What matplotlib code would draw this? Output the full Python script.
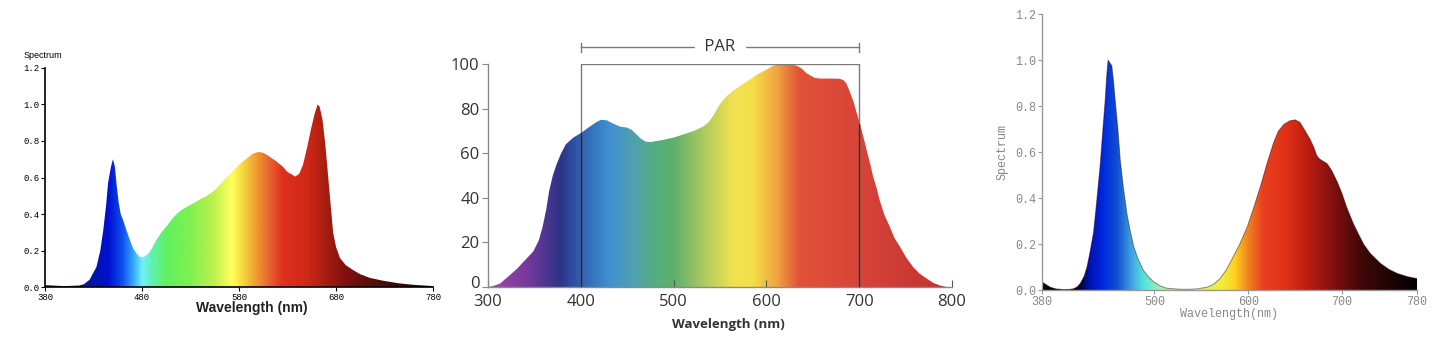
import numpy as np
import matplotlib
matplotlib.use("Agg")
import matplotlib.pyplot as plt
from matplotlib.patches import Polygon
from matplotlib.colors import to_rgb
from matplotlib.transforms import ScaledTranslation

# ---- data ----
# left panel: full-spectrum LED
wl_led = [380, 400, 415, 420, 426, 430, 433, 437, 440, 443, 445, 448, 450, 452, 454, 456,
          458, 461, 464, 468, 471, 475, 478, 482, 486, 490, 495, 500, 505, 512, 520, 530,
          540, 547, 555, 562, 567, 574, 580, 587, 594, 600, 605, 610, 618, 625, 630, 635,
          638, 642, 646, 650, 654, 658, 661, 663, 666, 669, 672, 675, 677, 680, 684, 690,
          697, 705, 715, 728, 745, 760, 780]
sp_led = [0.01, 0.005, 0.008, 0.015, 0.04, 0.08, 0.11, 0.2, 0.31, 0.45, 0.57, 0.66, 0.70, 0.66,
          0.55, 0.46, 0.40, 0.36, 0.31, 0.25, 0.21, 0.18, 0.165, 0.165, 0.18, 0.21, 0.26, 0.30,
          0.33, 0.38, 0.42, 0.45, 0.48, 0.50, 0.53, 0.57, 0.60, 0.635, 0.67, 0.70, 0.73, 0.74,
          0.735, 0.72, 0.69, 0.66, 0.63, 0.615, 0.605, 0.62, 0.67, 0.76, 0.86, 0.95, 1.0, 0.99,
          0.92, 0.78, 0.60, 0.42, 0.30, 0.22, 0.16, 0.12, 0.095, 0.07, 0.05, 0.035, 0.02,
          0.012, 0.005]

# middle panel: sunlight / PAR
wl_sun = [300, 306, 313, 320, 331, 340, 349, 355, 359, 363, 366, 370, 374, 379, 384, 392, 400,
          410, 417, 422, 428, 434, 442, 450, 455, 460, 465, 470, 475, 482, 489, 500, 511, 522,
          532, 538, 543, 550, 557, 564, 573, 582, 591, 600, 607, 615, 622, 629, 634, 638, 643,
          647, 652, 658, 670, 679, 683, 686, 690, 694, 697, 701, 705, 708, 712, 715, 719, 722,
          727, 733, 738, 744, 751, 758, 765, 773, 780, 787, 794]
sp_sun = [0, 0.5, 1.5, 4, 8, 12, 16, 21, 27, 35, 43, 50, 55, 60, 64, 67, 69, 72, 74, 75, 74.8,
          73.5, 72, 71.5, 70.5, 68.5, 66.5, 65.2, 65, 65.5, 66, 67, 68.5, 70, 72, 74, 77, 82,
          85.5, 88, 90.5, 93, 95.5, 97.5, 99.2, 100, 100, 99.7, 99, 98, 96, 95, 93.8, 93.5,
          93.5, 93.4, 92.8, 91.5, 87.5, 83, 78.5, 73, 66.5, 61.5, 55, 49.5, 44, 39, 32.5, 27,
          22, 18, 13, 9, 6, 3.7, 1.8, 0.7, 0]

# right panel: blue + red LED
wl_br = [380, 385, 389, 395, 403, 410, 414, 418, 421, 425, 428, 431, 435, 438, 442, 445, 447.5,
         449, 450.5, 452, 454.5, 456, 458, 461, 463.5, 467, 470.7, 474, 477.8, 482, 488, 493,
         499, 506, 513, 525, 535, 545, 556, 563, 570, 577, 584, 591, 599, 606, 613, 620, 627,
         632, 638, 644, 650, 655, 661, 666, 670, 673, 676, 680, 684, 689, 695, 700, 705, 712,
         718, 723, 730, 741, 750, 759, 770, 780]
sp_br = [0.035, 0.022, 0.012, 0.005, 0.002, 0.003, 0.006, 0.015, 0.03, 0.06, 0.10, 0.16, 0.25,
         0.37, 0.54, 0.70, 0.83, 0.93, 1.0, 0.99, 0.975, 0.92, 0.83, 0.70, 0.565, 0.44, 0.33,
         0.26, 0.19, 0.14, 0.087, 0.06, 0.036, 0.018, 0.008, 0.004, 0.003, 0.005, 0.012, 0.025,
         0.05, 0.09, 0.145, 0.2, 0.275, 0.36, 0.45, 0.55, 0.64, 0.69, 0.72, 0.735, 0.74, 0.73,
         0.69, 0.655, 0.62, 0.585, 0.57, 0.56, 0.55, 0.52, 0.47, 0.42, 0.36, 0.29, 0.24, 0.20,
         0.16, 0.116, 0.09, 0.072, 0.058, 0.05]

ticks_led = [380, 480, 580, 680, 780]
ticks_sun = [300, 400, 500, 600, 700, 800]
ticks_br = [380, 500, 600, 700, 780]

# colour stops (wavelength, colour) for the rainbow fills
stops_led = [(380, "#000040"), (425, "#0018a0"), (445, "#0010d0"), (460, "#1050f0"),
             (470, "#30a0ff"), (480, "#70f0ff"), (490, "#60f0b0"), (505, "#60f060"),
             (530, "#80f050"), (555, "#c0f050"), (572, "#ffff60"), (582, "#f8e040"),
             (597, "#f0a030"), (612, "#e86030"), (625, "#e03020"), (650, "#d02818"),
             (665, "#b02010"), (690, "#801010"), (720, "#501008"), (780, "#200000")]
stops_sun = [(300, "#a848a8"), (345, "#70389a"), (378, "#2c3488"), (400, "#3060b0"),
             (430, "#4090d0"), (455, "#4fa0b0"), (480, "#55ae80"), (500, "#5cb06a"),
             (530, "#a8c860"), (565, "#f2e250"), (585, "#f4e048"), (612, "#f0a040"),
             (635, "#e25238"), (700, "#d84438"), (800, "#c03030")]
stops_br = [(380, "#000000"), (418, "#000010"), (430, "#0010b0"), (445, "#0028e0"),
            (460, "#1050d0"), (475, "#40a0e0"), (487, "#50e0e0"), (505, "#a0f0b0"),
            (570, "#f0f040"), (585, "#ffd020"), (600, "#f08020"), (615, "#e84020"),
            (640, "#e03018"), (660, "#c02010"), (690, "#801010"), (720, "#400808"),
            (780, "#000000")]


def rainbow_fill(ax, wl, sp, stops, ymax):
    lo, hi = wl[0], wl[-1]
    xs = np.linspace(lo, hi, 800)
    sw = [s[0] for s in stops]
    rgb = np.array([to_rgb(s[1]) for s in stops])
    img = np.stack([np.interp(xs, sw, rgb[:, k]) for k in range(3)], axis=-1)[None, :, :]
    verts = [(lo, 0)] + list(zip(wl, sp)) + [(hi, 0)]
    poly = Polygon(verts, closed=True, facecolor="none", edgecolor="none")
    ax.add_patch(poly)
    im = ax.imshow(img, extent=(lo, hi, 0, ymax), aspect="auto", origin="lower",
                   interpolation="bilinear", zorder=1)
    im.set_clip_path(poly)


fig = plt.figure(figsize=(14.39, 3.55), dpi=100)
mono = "Liberation Mono"

# ---- panel 1 ----
ax1 = fig.add_axes([0.0313, 0.1915, 0.2696, 0.617])
rainbow_fill(ax1, wl_led, sp_led, stops_led, 1.05)
ax1.set_xlim(380, 780)
ax1.set_ylim(0, 1.2)
ax1.set_xticks(ticks_led)
ax1.set_yticks(np.arange(0, 1.21, 0.2))
ax1.set_yticklabels([f"{v:.1f}" for v in np.arange(0, 1.21, 0.2)])
for s in ["top", "right"]:
    ax1.spines[s].set_visible(False)
for s in ["left", "bottom"]:
    ax1.spines[s].set_linewidth(1.2)
ax1.tick_params(length=3, width=0.8, pad=1, labelsize=6.5)
for lab in ax1.get_xticklabels() + ax1.get_yticklabels():
    lab.set_fontfamily(mono)
fig.text(0.0167, 0.845, "Spectrum", fontsize=6.5, fontfamily="Liberation Sans",
         ha="left", va="center")
fig.text(0.175, 0.132, "Wavelength (nm)", fontsize=10, fontweight="bold",
         fontfamily="Liberation Sans", ha="center", va="center", color="#222222")

# ---- panel 2 ----
ax2 = fig.add_axes([0.339, 0.1915, 0.3226, 0.628])
rainbow_fill(ax2, wl_sun, sp_sun, stops_sun, 101)
ax2.set_xlim(300, 800)
ax2.set_ylim(0, 100)
ax2.set_xticks(ticks_sun)
ax2.set_yticks(range(0, 101, 20))
for s in ["top", "right"]:
    ax2.spines[s].set_visible(False)
for s in ["left", "bottom"]:
    ax2.spines[s].set_color("#8a8a8a")
    ax2.spines[s].set_linewidth(1.0)
ax2.tick_params(axis="y", length=4, color="#8a8a8a", pad=2, labelsize=12, labelcolor="#333333")
ax2.tick_params(axis="x", direction="in", length=5, color="#555555", pad=5, labelsize=12,
                labelcolor="#333333")
for lab in ax2.get_xticklabels() + ax2.get_yticklabels():
    lab.set_fontfamily("Open Sans")
# the "0" label sits a little above its tick
zero_lab = ax2.get_yticklabels()[0]
zero_lab.set_transform(zero_lab.get_transform() + ScaledTranslation(0, 5 / 100, fig.dpi_scale_trans))
# PAR box and bracket
ax2.plot([400, 400, 700, 700], [0, 100, 100, 0], color="#7a7a7a", lw=1.0, zorder=2)
ax2.plot([400, 400], [0, 69], color="#222244", lw=1.0, zorder=3)
ax2.plot([700, 700], [0, 73], color="#552222", lw=1.0, zorder=3)
ax2.plot([400, 700], [107.5, 107.5], color="#7a7a7a", lw=1.0, clip_on=False)
ax2.plot([400, 400], [105.5, 109.5], color="#7a7a7a", lw=1.0, clip_on=False)
ax2.plot([700, 700], [105.5, 109.5], color="#7a7a7a", lw=1.0, clip_on=False)
ax2.text(550, 107.5, " PAR ", ha="center", va="center", fontsize=12, color="#333333",
         fontfamily="Open Sans", backgroundcolor="white", clip_on=False, zorder=4)
fig.text(0.506, 0.085, "Wavelength (nm)", fontsize=9.5, fontweight="bold",
         fontfamily="Open Sans", ha="center", va="center", color="#333333")

# ---- panel 3 ----
ax3 = fig.add_axes([0.7241, 0.183, 0.2606, 0.7775])
rainbow_fill(ax3, wl_br, sp_br, stops_br, 1.05)
ax3.plot(wl_br, sp_br, color="#200000", lw=0.7, alpha=0.45, zorder=2)
ax3.set_xlim(380, 780)
ax3.set_ylim(0, 1.2)
ax3.set_xticks(ticks_br)
ax3.set_yticks(np.arange(0, 1.21, 0.2))
ax3.set_yticklabels([f"{v:.1f}" for v in np.arange(0, 1.21, 0.2)])
for s in ["top", "right"]:
    ax3.spines[s].set_visible(False)
for s in ["left", "bottom"]:
    ax3.spines[s].set_color("#999999")
    ax3.spines[s].set_linewidth(1.0)
ax3.tick_params(length=3, color="#999999", pad=1, labelsize=8.5, labelcolor="#888888")
for lab in ax3.get_xticklabels() + ax3.get_yticklabels():
    lab.set_fontfamily(mono)
ax3.set_ylabel("Spectrum", fontfamily=mono, fontsize=8.5, color="#888888", labelpad=5)
ax3.set_xlabel("Wavelength(nm)", fontfamily=mono, fontsize=8.5, color="#888888", labelpad=0)

fig.savefig("out.png", dpi=100)
